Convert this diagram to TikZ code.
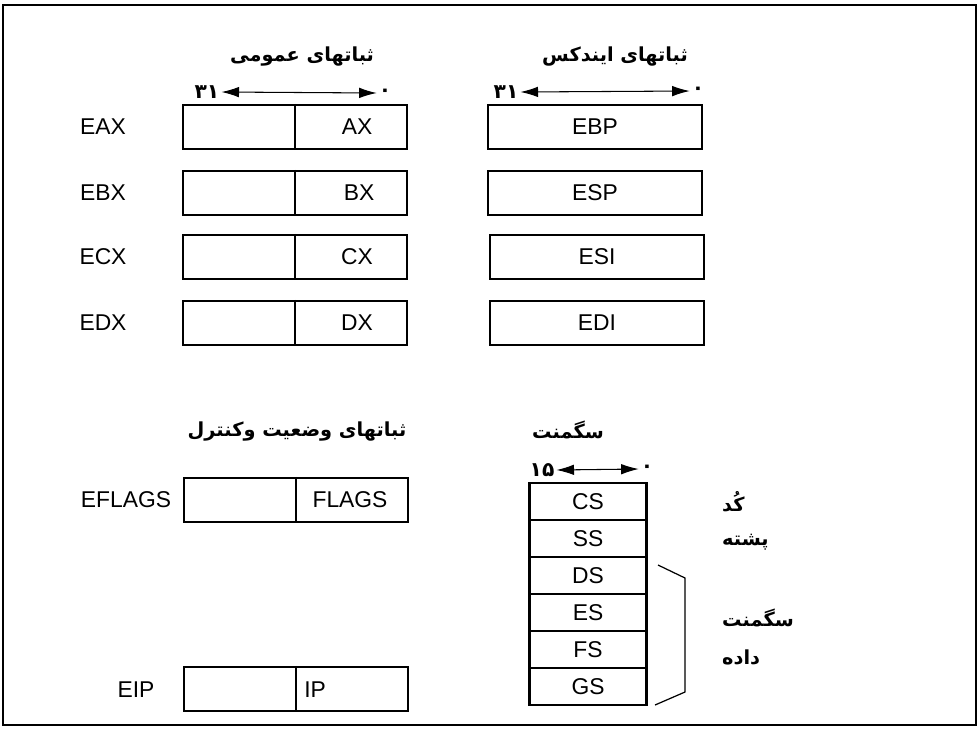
\documentclass[tikz,border=0pt]{standalone}
\usepackage{fontspec}
\setmainfont{Liberation Sans}
\newfontfamily\arabicfont[Script=Arabic]{DejaVu Sans}
\TeXXeTstate=1
\usetikzlibrary{arrows.meta}

\begin{document}
\begin{tikzpicture}[x=0.02cm,y=-0.02cm,
          reg/.style={draw,line width=1.3pt,minimum width=4.48cm,
                      minimum height=0.88cm,inner sep=0pt,
                      font=\fontsize{13}{15}\selectfont},
          idx/.style={reg,minimum width=4.28cm},
          seg/.style={draw,line width=1.3pt,minimum width=2.34cm,
                      minimum height=0.74cm,inner sep=0pt,
                      font=\fontsize{13}{15}\selectfont},
          lbl/.style={font=\fontsize{13}{15}\selectfont,inner sep=0pt},
          head/.style={font=\arabicfont\bfseries\fontsize{11}{13}\selectfont},
          num/.style={font=\arabicfont\bfseries\fontsize{11.5}{13}\selectfont,
                      inner sep=1pt},
          dimarr/.style={{Latex[length=10pt,width=6pt]}-{Latex[length=10pt,width=6pt]},
                         line width=0.6pt},
          half/.style={line width=0.7pt}]
        \useasboundingbox (0,0) rectangle (979,731);
        \draw[line width=1.4pt] (3,5) rectangle (976,725);
        % headings
        \node[head] (hgen) at (302,57)  {\beginR ثباتهای عمومی\endR};
        \node[head] (hidx) at (615,57)  {\beginR ثباتهای ایندکس\endR};
        \node[head] (hctl) at (297,432) {\beginR ثباتهای وضعیت وکنترل\endR};
        \node[head] (hseg) at (568,430) {سگمنت};
        % bit ranges
        \node[num] (g31) at (207,92)  {۳۱};
        \node[num] (g0)  at (385,93)  {۰};
        \node[num] (i31) at (506,92)  {۳۱};
        \node[num] (i0)  at (698,91)  {۰};
        \node[num] (s15) at (542,470) {۱۵};
        \node[num] (s0)  at (647,469) {۰};
        \draw[dimarr] (g31.east) -- (g0.west);
        \draw[dimarr] (i31.east) -- (i0.west);
        \draw[dimarr] (s15.east) -- (s0.west);
        % general registers
        \node[reg] (eax) at (295,127) {};
        \node[reg] (ebx) at (295,193) {};
        \node[reg] (ecx) at (295,257) {};
        \node[reg] (edx) at (295,323) {};
        \draw[half] (eax.north) -- (eax.south);
        \draw[half] (ebx.north) -- (ebx.south);
        \draw[half] (ecx.north) -- (ecx.south);
        \draw[half] (edx.north) -- (edx.south);
        \node[lbl] (leax) at (103,127) {EAX};
        \node[lbl] (lebx) at (103,193) {EBX};
        \node[lbl] (lecx) at (103,257) {ECX};
        \node[lbl] (ledx) at (103,323) {EDX};
        \node[lbl] (ax) at (357,127) {AX};
        \node[lbl] (bx) at (359,193) {BX};
        \node[lbl] (cx) at (357,257) {CX};
        \node[lbl] (dx) at (357,323) {DX};
        % index registers
        \node[idx] (ebp) at (595,127) {EBP};
        \node[idx] (esp) at (595,193) {ESP};
        \node[idx] (esi) at (597,257) {ESI};
        \node[idx] (edi) at (597,323) {EDI};
        % status and control
        \node[reg] (efl) at (296,500) {};
        \node[reg] (eip) at (296,689) {};
        \draw[half] (efl.north) -- (efl.south);
        \draw[half] (eip.north) -- (eip.south);
        \node[lbl] (lefl) at (126,500) {EFLAGS};
        \node[lbl] (leip) at (136,690) {EIP};
        \node[lbl] (fl) at (350,500) {FLAGS};
        \node[lbl,anchor=west] (ip) at (304,690) {IP};
        % segment registers
        \node[seg] (cs) at (588,501.5) {CS};
        \node[seg] (ss) at (588,538.5) {SS};
        \node[seg] (ds) at (588,575.5) {DS};
        \node[seg] (es) at (588,612.5) {ES};
        \node[seg] (fs) at (588,649.5) {FS};
        \node[seg] (gs) at (588,686.5) {GS};
        \draw[line width=0.7pt] (658,565) -- (685,578) -- (685,692) -- (655,705);
        \node[head,anchor=west] (code)  at (716,502) {کُد};
        \node[head,anchor=west] (stack) at (716,542) {پشته};
        \node[head,anchor=west] (dseg)  at (716,618) {سگمنت};
        \node[head,anchor=west] (data)  at (716,657) {داده};
      \end{tikzpicture}
\end{document}
